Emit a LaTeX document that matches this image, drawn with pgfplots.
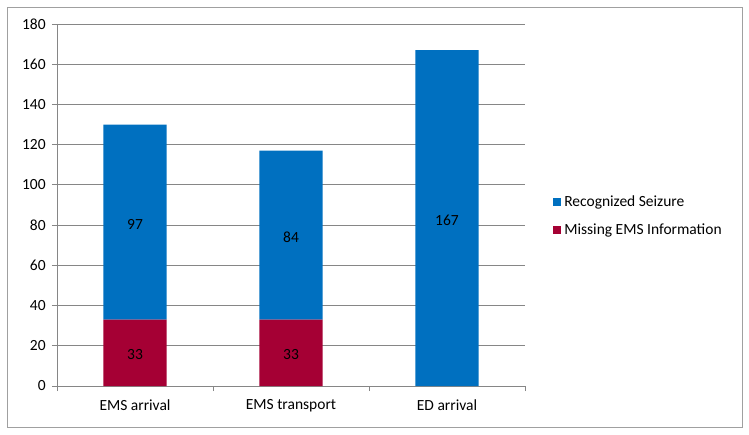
\documentclass[border=0pt]{standalone}
\usepackage{fontspec}
\setmainfont{Carlito}
\usepackage{pgfplots}
\pgfplotsset{compat=1.18}
\definecolor{cblue}{RGB}{0,112,192}
\definecolor{cred}{RGB}{165,0,52}
\definecolor{cgrid}{RGB}{134,134,134}
\definecolor{cframe}{RGB}{160,160,160}
\begin{document}
\fontsize{15.5}{18}\selectfont
\begin{tikzpicture}[x=1pt,y=1pt]
\begin{axis}[
  at={(0,0)}, anchor=south west, scale only axis,
  width=468pt, height=362pt,
  xmin=-0.5, xmax=2.5, ymin=0, ymax=180,
  ybar stacked, bar width=0.404,
  ytick={0,20,...,180},
  xtick={-0.5,0.5,1.5,2.5},
  x tick label as interval,
  xticklabels={EMS arrival, EMS transport, ED arrival},
  axis lines*=left,
  axis line style={cgrid, line width=0.8pt},
  ymajorgrids, grid style={cgrid, line width=0.8pt},
  tick align=outside, major tick length=5pt,
  tick style={cgrid, line width=0.8pt},
  /pgf/number format/assume math mode=true,
  ticklabel style={black},
  yticklabel style={xshift=-1pt},
  xticklabel style={yshift=-3pt},
  reverse legend,
  legend cell align=left,
  legend style={at={(rel axis cs:1.06,0.47)}, anchor=west, draw=none, fill=none,
    row sep=9pt, inner sep=0pt, nodes={inner sep=3pt}},
]
\addplot[fill=cred, draw=none,
  legend image code/.code={\fill[cred] (0pt,-4pt) rectangle (8pt,4pt);}]
  coordinates {(0,33) (1,33) (2,0)};
\addlegendentry{Missing EMS Information}
\addplot[fill=cblue, draw=none,
  legend image code/.code={\fill[cblue] (0pt,-4pt) rectangle (8pt,4pt);}]
  coordinates {(0,97) (1,84) (2,167)};
\addlegendentry{Recognized Seizure}
\coordinate (A) at (rel axis cs:0,0);
\end{axis}
\begin{axis}[
  at={(0,0)}, anchor=south west, scale only axis,
  width=468pt, height=362pt,
  xmin=-0.5, xmax=2.5, ymin=0, ymax=180,
  hide axis,
]
\addplot[draw=none, mark=none, nodes near coords, point meta=explicit symbolic,
  nodes near coords align=center,
  every node near coord/.append style={black, anchor=center, yshift=-2pt}]
  coordinates {(0,16.5)[33] (1,16.5)[33] (0,81.5)[97] (1,75)[84] (2,83.5)[167]};
\end{axis}
\draw[cframe, line width=0.8pt] ([shift={(-50,-41)}]A) rectangle ([shift={(685,379)}]A);
\pgfresetboundingbox
\path[use as bounding box] ([shift={(-57,-48)}]A) rectangle ([shift={(692,386)}]A);
\end{tikzpicture}
\end{document}
